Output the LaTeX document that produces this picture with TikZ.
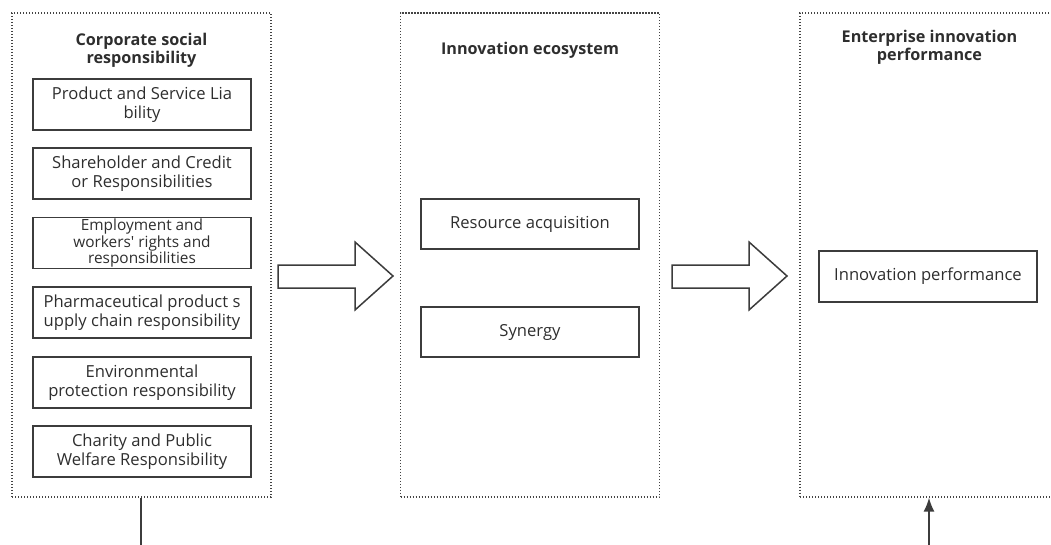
\documentclass[tikz,border=0pt]{standalone}
\usepackage{fontspec}
\setmainfont{Open Sans}
\usepackage{tikz}
\usetikzlibrary{arrows.meta}

\definecolor{ink}{HTML}{2E2E2E}
\definecolor{frame}{HTML}{3C3C3C}
\definecolor{dots}{HTML}{444444}

\tikzset{
  group/.style={draw=dots, line width=1.4pt, dash pattern=on 1.4pt off 1.6pt, minimum width=259pt, minimum height=484pt, inner sep=0pt},
  heading/.style={text=ink, font=\bfseries\fontsize{16.2}{18}\selectfont, align=center},
  item/.style={draw=frame, line width=1.5pt, text=ink, font=\fontsize{16.6}{18.5}\selectfont, align=center, minimum width=218pt, minimum height=51pt, inner sep=0pt},
  flow/.style={draw=frame, line width=1.5pt, fill=white, line join=miter}
}

\begin{document}
\begin{tikzpicture}[x=1pt, y=-1pt]
\useasboundingbox (0,0) rectangle (1051,545);
\clip (0,0) rectangle (1051,545);

% the three groups
\node[group] (csr) at (141.5,255) {};
\node[group] (eco) at (530,255) {};
\node[group] (eip) at (929.5,255) {};

\node[heading] at (141.5,50) {Corporate social\\responsibility};
\node[heading] at (530,50) {Innovation ecosystem};
\node[heading] at (929.5,47) {Enterprise innovation\\performance};

% responsibilities
\node[item] (liab) at (142,104.5) {Product and Service Lia\\bility};
\node[item] (share) at (142,173.5) {Shareholder and Credit\\or Responsibilities};
\node[item, font=\fontsize{15.4}{16.5}\selectfont] (work) at (142,243) {Employment and\\workers\textquotesingle{} rights and\\responsibilities};
\node[item] (pharm) at (142,312.5) {Pharmaceutical product s\\upply chain responsibility};
\node[item] (env) at (142,382.5) {Environmental\\protection responsibility};
\node[item] (char) at (142,451.5) {Charity and Public\\Welfare Responsibility};

\node[item, minimum height=50pt] (res) at (530,224) {Resource acquisition};
\node[item, minimum height=50pt] (syn) at (530,332) {Synergy};

\node[item] (perf) at (928,276.5) {Innovation performance};

% block arrows between the groups
\draw[flow] (278,265) -- (355,265) -- (355,242) -- (393,276) -- (355,310) -- (355,288) -- (278,288) -- cycle;
\draw[flow] (672,265) -- (749,265) -- (749,242) -- (787,276) -- (749,310) -- (749,288) -- (672,288) -- cycle;

\coordinate (out) at (141,545);
\coordinate (in) at (929,545);
\draw[frame, line width=1.5pt] (csr.south -| out) -- (out);
\draw[frame, line width=1.5pt, -{Latex[length=14pt, width=11pt]}] (in) -- (eip.south -| in);
\end{tikzpicture}
\end{document}
